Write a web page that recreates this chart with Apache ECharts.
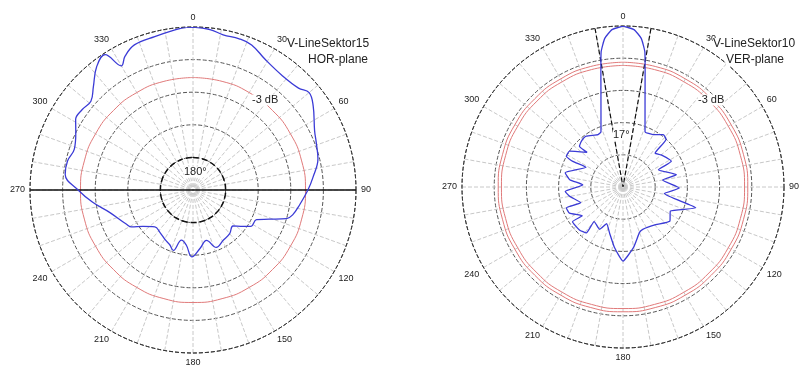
<!DOCTYPE html>
<html>
<head>
<meta charset="utf-8">
<script src="https://cdn.jsdelivr.net/npm/echarts@6/dist/echarts.min.js"></script>
<style>
  html, body { margin: 0; padding: 0; background: #fff; }
  #chart { width: 800px; height: 365px; }
</style>
</head>
<body>
<div id="chart"></div>
<script>
// HOR-plane pattern (relative amplitude vs angle, clockwise from top)
const horAngle = [0, 6, 11, 17, 22, 29, 38, 46, 50, 55, 64, 69, 76, 84, 90, 98, 104, 107, 111, 115, 122, 126, 132, 140, 149, 158, 165, 173, 181, 187, 193, 198, 203, 209, 218, 226, 234, 239, 243, 255, 263, 270, 277, 283, 289, 296, 301, 306, 311, 316, 322, 327, 330, 333, 338, 346, 356, 360];
const horGain = [1.00, 0.99, 0.97, 0.97, 0.96, 0.915, 0.89, 0.90, 0.93, 0.90, 0.83, 0.81, 0.79, 0.74, 0.705, 0.66, 0.63, 0.60, 0.50, 0.43, 0.42, 0.38, 0.33, 0.35, 0.36, 0.38, 0.32, 0.36, 0.41, 0.34, 0.315, 0.39, 0.365, 0.35, 0.33, 0.325, 0.38, 0.44, 0.46, 0.53, 0.62, 0.705, 0.79, 0.79, 0.77, 0.80, 0.84, 0.84, 0.83, 0.88, 0.96, 0.99, 0.88, 0.92, 0.96, 0.97, 0.995, 1.00];

// VER-plane pattern, in drawing order
const verAngle = [0, 4, 7, 9.2, 10.7, 13.2, 17.3, 21.7, 29.8, 37.5, 42, 43.5, 50, 62, 64, 77, 80, 91, 99, 106, 117, 126, 139, 155, 160, 170, 180, 188, 196, 204, 209, 219.8, 218.6, 225.4, 235.5, 234.8, 244, 249.7, 249.7, 260, 265.6, 273, 277.8, 283.9, 298, 297, 298.4, 303.8, 314, 313, 317.6, 324, 334.5, 338.3, 342.7, 346.8, 349.3, 350.8, 353, 356, 360];
const verGain = [1.00, 0.98, 0.93, 0.85, 0.74, 0.60, 0.46, 0.37, 0.375, 0.41, 0.40, 0.29, 0.31, 0.34, 0.245, 0.34, 0.25, 0.35, 0.26, 0.47, 0.33, 0.36, 0.31, 0.29, 0.30, 0.38, 0.46, 0.38, 0.30, 0.25, 0.30, 0.28, 0.365, 0.38, 0.38, 0.31, 0.37, 0.375, 0.28, 0.336, 0.36, 0.25, 0.334, 0.37, 0.26, 0.35, 0.40, 0.40, 0.31, 0.37, 0.384, 0.39, 0.36, 0.37, 0.46, 0.60, 0.74, 0.85, 0.93, 0.98, 1.00];

// reference circles / lines
const horMinus3dB = [0.69];
const verMinus3dB = [0.755, 0.775];
const horAxisLineR = [1, 0, 1];
const horAxisLineA = [270, 0, 90];
const verBeamR = [1, 0, 1];
const verBeamA = [350, 0, 10];
const circleSteps = [0, 15, 30, 45, 60, 75, 90, 105, 120, 135, 150, 165, 180, 195, 210, 225, 240, 255, 270, 285, 300, 315, 330, 345, 360];

const zip = (r, a) => r.map((v, i) => [v, a[i]]);
const ring = (r) => circleSteps.map((a) => [r, a]);

const chart = echarts.init(document.getElementById("chart"));

const FONT = "Liberation Sans";

function angleAxis(idx) {
  return {
    polarIndex: idx,
    type: "value",
    min: 0,
    max: 360,
    interval: 10,
    startAngle: 90,
    clockwise: true,
    axisLine: { lineStyle: { color: "#333", type: "dashed", width: 1 } },
    axisTick: { show: false },
    axisLabel: {
      margin: 5,
      fontFamily: FONT,
      fontSize: 9,
      color: "#222",
      formatter: (v) => (v % 30 === 0 && v < 360 ? String(v) : ""),
    },
    splitLine: { lineStyle: { color: "#c8c8c8", type: "dashed", width: 1 } },
  };
}

function radiusAxis(idx) {
  return {
    polarIndex: idx,
    type: "value",
    min: 0,
    max: 1,
    interval: 0.2,
    axisLine: { show: false },
    axisTick: { show: false },
    axisLabel: { show: false },
    splitLine: { lineStyle: { color: "#555", type: "dashed", width: 1 } },
  };
}

function lineSeries(idx, data, color, width, type, smooth, z) {
  return {
    type: "line",
    coordinateSystem: "polar",
    polarIndex: idx,
    data: data,
    symbol: "none",
    smooth: smooth,
    silent: true,
    z: z,
    lineStyle: { color: color, width: width, type: type },
  };
}

const series = [];
// left: HOR
horMinus3dB.forEach((r) => series.push(lineSeries(0, ring(r), "#e07a7a", 1, "solid", true, 2)));
series.push(lineSeries(0, ring(0.2), "#111", 1.5, "dashed", true, 3));
series.push(lineSeries(0, zip(horAxisLineR, horAxisLineA), "#111", 1.5, "solid", false, 3));
series.push(lineSeries(0, zip(horGain, horAngle), "#3b3bd6", 1.3, "solid", 0.4, 5));
// right: VER
verMinus3dB.forEach((r) => series.push(lineSeries(1, ring(r), "#e07a7a", 1, "solid", true, 2)));
series.push(lineSeries(1, zip(verBeamR, verBeamA), "#111", 1.2, "dashed", false, 3));
series.push(lineSeries(1, zip(verGain, verAngle), "#3b3bd6", 1.3, "solid", 0.15, 5));

function txt(x, y, text, align, size) {
  return {
    type: "text",
    x: x,
    y: y,
    z: 10,
    style: {
      text: text,
      fill: "#222",
      font: (size || 11) + "px " + FONT,
      align: align || "left",
      verticalAlign: "middle",
      backgroundColor: "#fff",
    },
  };
}

const option = {
  animation: false,
  backgroundColor: "#fff",
  polar: [
    { center: [193, 190], radius: 163 },
    { center: [623, 187], radius: 161 },
  ],
  angleAxis: [angleAxis(0), angleAxis(1)],
  radiusAxis: [radiusAxis(0), radiusAxis(1)],
  series: series,
  graphic: [
    txt(287, 44, "V-LineSektor15", "left", 12),
    txt(368, 60, "HOR-plane", "right", 12),
    txt(252, 100, "-3 dB"),
    txt(184, 172, "180°"),
    txt(713, 44, "V-LineSektor10", "left", 12),
    txt(784, 60, "VER-plane", "right", 12),
    txt(698, 100, "-3 dB"),
    txt(613, 135, "17°"),
  ],
};

chart.setOption(option);
</script>
</body>
</html>
